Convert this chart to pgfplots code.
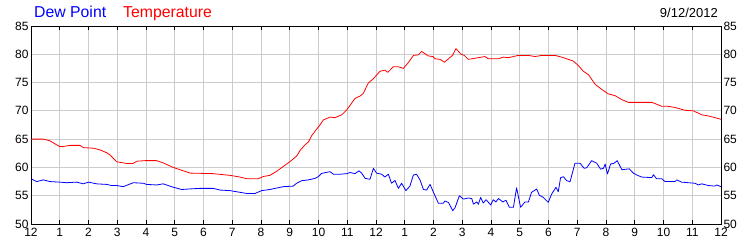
\documentclass[border=0pt]{standalone}
\usepackage{pgfplots}
\pgfplotsset{compat=1.18}
\usepackage{pgfplotstable}
\usepackage{fontspec}
\setmainfont{Liberation Sans}
\definecolor{gridgray}{RGB}{204,204,204}
\definecolor{dewblue}{RGB}{0,0,255}
\definecolor{tempred}{RGB}{255,0,0}

\pgfplotstableread{
h t
0 65.0
0.43 65.0
0.66 64.7
0.89 64.0
1.0 63.7
1.12 63.7
1.36 63.9
1.7 63.9
1.82 63.5
2.17 63.4
2.4 63.1
2.63 62.6
2.75 62.2
2.98 61.0
3.33 60.7
3.55 60.7
3.68 61.1
3.97 61.2
4.37 61.2
4.6 60.8
4.95 60.0
5.3 59.4
5.53 59.0
6.34 58.9
6.92 58.6
7.27 58.3
7.5 58.0
7.9 58.0
8.08 58.4
8.31 58.6
8.54 59.3
8.78 60.2
9.0 61.0
9.24 62.0
9.36 63.0
9.53 64.0
9.65 64.5
9.76 65.6
9.94 66.8
10.05 67.5
10.17 68.4
10.4 68.9
10.57 68.8
10.81 69.3
10.98 70.15
11.1 71.0
11.27 72.2
11.44 72.6
11.56 73.1
11.73 74.9
11.91 75.7
12.14 77.0
12.31 77.2
12.41 76.8
12.6 77.8
12.78 77.8
12.95 77.5
13.12 78.5
13.3 79.8
13.47 79.9
13.59 80.5
13.82 79.7
13.99 79.6
14.05 79.2
14.23 79.1
14.38 78.6
14.52 79.2
14.66 79.8
14.78 81.0
14.96 80.0
15.07 79.8
15.21 79.1
15.44 79.3
15.79 79.6
15.91 79.2
16.25 79.2
16.43 79.5
16.6 79.4
16.95 79.8
17.3 79.8
17.53 79.6
17.76 79.8
18.23 79.8
18.46 79.5
18.69 79.1
18.86 78.8
19.04 78.0
19.21 77.0
19.39 76.4
19.62 74.7
19.85 73.8
20.08 73.0
20.31 72.7
20.54 72.0
20.78 71.5
21.59 71.5
21.7 71.3
21.94 70.8
22.17 70.8
22.4 70.6
22.75 70.1
23.04 70.0
23.33 69.3
23.56 69.1
23.79 68.8
24.0 68.5
}\temptable

\pgfplotstableread{
h d
0 58.0
0.2 57.5
0.43 57.8
0.66 57.5
1.0 57.4
1.24 57.3
1.59 57.4
1.82 57.1
2.0 57.4
2.28 57.1
2.63 57.0
2.8 56.8
2.98 56.8
3.21 56.6
3.56 57.3
3.91 57.2
4.02 57.0
4.37 56.9
4.6 57.1
4.95 56.5
5.24 56.1
5.53 56.2
5.88 56.3
6.34 56.3
6.57 56.0
6.92 55.9
7.27 55.6
7.5 55.4
7.79 55.4
8.02 55.9
8.31 56.1
8.49 56.3
8.78 56.6
9.12 56.7
9.24 57.2
9.41 57.65
9.65 57.8
9.88 58.07
9.99 58.36
10.11 58.95
10.4 59.25
10.52 58.8
10.75 58.8
10.98 58.9
11.1 59.1
11.27 58.9
11.41 59.4
11.5 59.0
11.62 58.07
11.79 57.9
11.91 59.83
12.02 59.0
12.2 58.8
12.31 58.3
12.43 58.8
12.54 57.2
12.66 57.7
12.78 56.3
12.89 57.2
13.04 55.9
13.18 56.7
13.3 58.66
13.41 58.8
13.53 57.8
13.65 56.1
13.76 56.0
13.88 57.0
13.99 55.7
14.17 53.66
14.34 53.66
14.4 54.07
14.52 53.8
14.67 52.35
14.75 52.9
14.9 55.0
15.04 54.4
15.21 54.6
15.33 54.5
15.39 53.5
15.5 53.9
15.56 53.5
15.64 54.7
15.73 53.7
15.83 54.3
15.99 53.36
16.08 54.3
16.17 53.9
16.26 54.5
16.41 53.9
16.52 54.2
16.64 52.95
16.78 52.95
16.89 56.4
17.03 52.95
17.18 53.9
17.3 53.9
17.41 55.6
17.59 56.18
17.68 55.1
17.82 54.7
17.99 53.83
18.11 55.3
18.26 56.48
18.34 55.7
18.42 58.19
18.52 58.36
18.63 57.66
18.75 57.48
18.92 60.73
19.1 60.73
19.24 59.84
19.33 59.95
19.5 61.2
19.68 60.73
19.81 59.7
19.91 59.84
19.97 60.6
20.05 58.84
20.16 60.6
20.28 60.73
20.39 61.2
20.55 59.6
20.72 59.7
20.81 59.75
20.95 59.0
21.07 58.66
21.24 58.3
21.59 58.2
21.65 58.7
21.76 58.0
21.94 58.0
22.05 57.5
22.4 57.5
22.46 57.8
22.63 57.4
23.1 57.2
23.21 56.9
23.33 57.1
23.56 56.8
23.79 56.7
23.85 56.9
24.0 56.6
}\dewtable

\begin{document}
\begin{tikzpicture}
\pgfplotsset{
  common/.style={
    scale only axis,
    width=690bp, height=198bp,
    xmin=0, xmax=24, ymin=50, ymax=85,
    ytick={50,55,...,85},
    /pgf/number format/assume math mode=true,
    ticklabel style={font=\fontsize{12bp}{14bp}\selectfont},
  }
}
\begin{axis}[
  common,
  name=main,
  xtick={0,...,24},
  xticklabels={12,1,2,3,4,5,6,7,8,9,10,11,12,1,2,3,4,5,6,7,8,9,10,11,12},
  tick align=inside,
  xtick pos=both,
  major tick length=4bp,
  xtick style={draw=black, line width=0.8bp},
  ytick style={draw=none},
  grid=major,
  major grid style={draw=gridgray, line width=0.8bp},
  axis line style={draw=black, line width=0.8bp},
  yticklabel pos=left,
  yticklabel style={xshift=1bp},
  xticklabel style={yshift=-1bp},
]
\addplot[dewblue, line width=0.8bp, line join=round] table[x=h,y=d] {\dewtable};
\addplot[tempred, line width=0.8bp, line join=round] table[x=h,y=t] {\temptable};
\end{axis}
\begin{axis}[
  common,
  hide x axis,
  axis y line*=right,
  y axis line style={draw=none},
  ytick style={draw=none},
  yticklabel pos=right,
  yticklabel style={xshift=-1bp},
]
\addplot[draw=none] coordinates {(0,50)};
\end{axis}
\node[anchor=base west, font=\fontsize{15.8bp}{18bp}\selectfont, text=dewblue, inner sep=0pt] at ([xshift=3bp,yshift=9bp]main.north west) {Dew Point};
\node[anchor=base west, font=\fontsize{15.8bp}{18bp}\selectfont, text=tempred, inner sep=0pt] at ([xshift=92bp,yshift=9bp]main.north west) {Temperature};
\node[anchor=base east, font=\fontsize{13bp}{16bp}\selectfont, inner sep=0pt] at ([xshift=-3bp,yshift=9bp]main.north east) {9/12/2012};
\pgfresetboundingbox
\useasboundingbox ([xshift=-31bp,yshift=-26bp]main.south west) rectangle ([xshift=29bp,yshift=26bp]main.north east);
\end{tikzpicture}
\end{document}
